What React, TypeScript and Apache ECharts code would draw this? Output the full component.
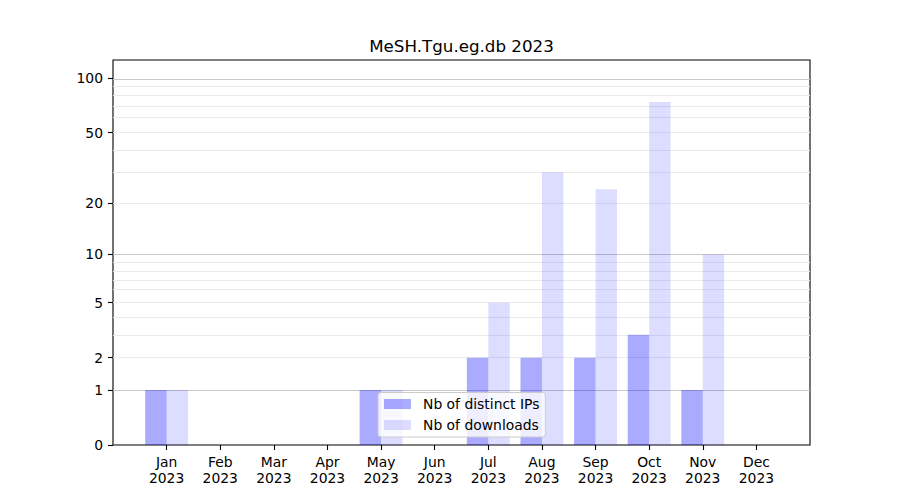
import React, { useEffect, useRef } from 'react';
import * as echarts from 'echarts';

const chartTitle = 'MeSH.Tgu.eg.db 2023';
const months = ['Jan', 'Feb', 'Mar', 'Apr', 'May', 'Jun', 'Jul', 'Aug', 'Sep', 'Oct', 'Nov', 'Dec'];
const year = '2023';
const seriesNames = ['Nb of distinct IPs', 'Nb of downloads'];
const ipCounts = [1, 0, 0, 0, 1, 0, 2, 2, 2, 3, 1, 0];
const downloadCounts = [1, 0, 0, 0, 1, 0, 5, 30, 24, 74, 10, 0];
const yTickValues = [0, 1, 2, 5, 10, 20, 50, 100];
const majorGrid = [1, 10, 100];
const minorGrid = [2, 3, 4, 5, 6, 7, 8, 9, 20, 30, 40, 50, 60, 70, 80, 90];
const yTopRaw = 126.2;

// log10(1 + x) scale, as in the reference
const fwd = (v: number) => Math.log10(1 + v);
const inv = (t: number) => Math.pow(10, t) - 1;

const FONT = 'DejaVu Sans';

export default function App() {
  const ref = useRef<HTMLDivElement>(null);

  useEffect(() => {
    if (!ref.current) return;
    const chart = echarts.init(ref.current, undefined, { renderer: 'svg' });
    const idx = months.map((_, i) => i);

    const option = {
      animation: false,
      backgroundColor: '#ffffff',
      textStyle: { fontFamily: FONT },
      grid: {
        left: 113,
        right: 90,
        top: 60,
        bottom: 55,
        show: true,
        borderColor: '#000000',
        borderWidth: 1.1,
        backgroundColor: 'transparent',
      },
      graphic: [
        {
          type: 'text',
          x: 461.5,
          y: 46,
          style: {
            text: chartTitle,
            fontSize: 16.7,
            fontFamily: FONT,
            fill: '#000000',
            textAlign: 'center',
            textVerticalAlign: 'middle',
          },
        },
      ],
      legend: {
        orient: 'vertical',
        left: 378,
        top: 392.5,
        padding: [4.5, 6, 5, 6],
        itemGap: 7,
        itemWidth: 27,
        itemHeight: 10,
        icon: 'rect',
        backgroundColor: 'rgba(255,255,255,0.8)',
        borderColor: '#cccccc',
        borderWidth: 1,
        borderRadius: 3,
        textStyle: { fontSize: 13.9, color: '#000000', fontFamily: FONT, lineHeight: 14, padding: [0, 0, 0, 7] },
        itemStyle: { borderWidth: 0 },
        data: seriesNames,
      },
      xAxis: {
        type: 'value',
        min: -1,
        max: 12,
        interval: 1,
        axisLine: { show: false, onZero: false },
        splitLine: { show: false },
        axisTick: {
          show: true,
          customValues: idx,
          length: 5,
          lineStyle: { color: '#000000', width: 1.1 },
        },
        axisLabel: {
          customValues: idx,
          formatter: (v: number) => {
            const m = months[Math.round(v)];
            return m ? m + '\n' + year : '';
          },
          fontSize: 13.9,
          color: '#000000',
          fontFamily: FONT,
          lineHeight: 16,
          margin: 9,
        },
      },
      yAxis: {
        type: 'value',
        min: 0,
        max: fwd(yTopRaw),
        axisLine: { show: false, onZero: false },
        splitLine: { show: false },
        axisTick: {
          show: true,
          customValues: yTickValues.map(fwd),
          length: 5,
          lineStyle: { color: '#000000', width: 1.1 },
        },
        axisLabel: {
          customValues: yTickValues.map(fwd),
          formatter: (v: number) => String(Math.round(inv(v))),
          fontSize: 13.9,
          color: '#000000',
          fontFamily: FONT,
          margin: 10,
        },
      },
      series: [
        {
          name: seriesNames[0],
          type: 'bar',
          data: ipCounts.map((v, i) => [i, fwd(v)]),
          barWidth: '40%',
          barGap: '0%',
          itemStyle: { color: 'rgba(0,0,255,0.333)' },
          emphasis: { disabled: true },
          markLine: {
            silent: true,
            symbol: ['none', 'none'],
            z: 1,
            label: { show: false },
            data: [
              ...minorGrid.map((v) => ({
                yAxis: fwd(v),
                lineStyle: { color: '#ebebeb', width: 1, type: 'solid' },
              })),
              ...majorGrid.map((v) => ({
                yAxis: fwd(v),
                lineStyle: { color: '#c8c8c8', width: 1, type: 'solid' },
              })),
            ],
          },
        },
        {
          name: seriesNames[1],
          type: 'bar',
          data: downloadCounts.map((v, i) => [i, fwd(v)]),
          barWidth: '40%',
          barGap: '0%',
          itemStyle: { color: 'rgba(0,0,255,0.135)' },
          emphasis: { disabled: true },
        },
      ],
    };

    chart.setOption(option as any);
    return () => chart.dispose();
  }, []);

  return (
    <div
      ref={ref}
      style={{ position: 'fixed', left: 0, top: 0, width: 900, height: 500, background: '#ffffff' }}
    />
  );
}
